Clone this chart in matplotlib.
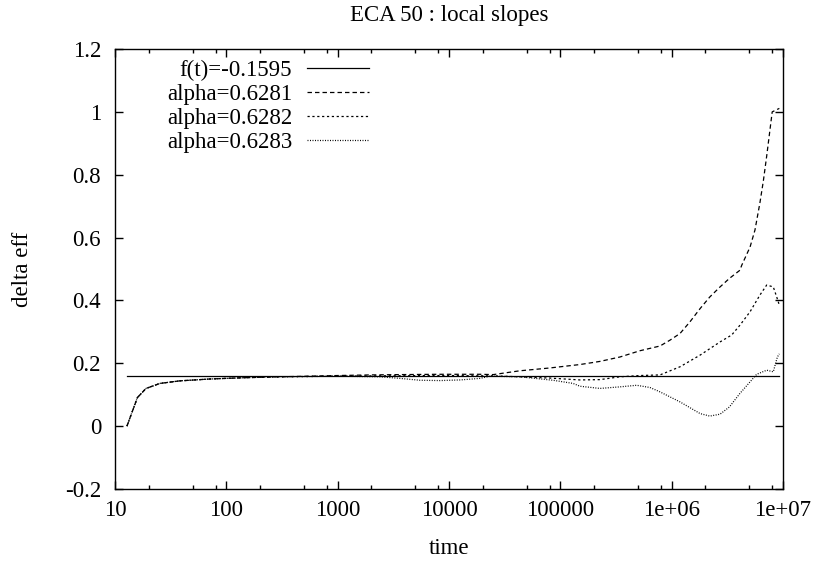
import matplotlib
matplotlib.use("Agg")
import matplotlib.pyplot as plt
from matplotlib.ticker import FixedLocator, FixedFormatter, NullFormatter

plt.rcParams['font.family'] = ['Liberation Serif', 'DejaVu Serif']
plt.rcParams['lines.scale_dashes'] = False
FS = 16.5

# ---- data ----
ft_value = 0.1595
ft_t = [12.8, 9.27e6]

t_6281 = [12.8, 15.9, 19.0, 25.4, 38, 71, 141, 300, 565, 1000, 2000, 3600, 8300,
          1.9e4, 2.5e4, 4.3e4, 8e4, 1.5e5, 2.27e5, 3.43e5, 5.2e5, 7.86e5, 9.7e5,
          1.19e6, 1.46e6, 1.8e6, 2.2e6, 2.72e6, 3.3e6, 4.1e6, 4.26e6, 5.06e6,
          5.6e6, 6.2e6, 6.66e6, 7.14e6, 8.0e6, 9.27e6]
y_6281 = [0.0, 0.091, 0.12, 0.136, 0.144, 0.150, 0.154, 0.157, 0.159, 0.161, 0.163,
          0.164, 0.165, 0.165, 0.164, 0.176, 0.185, 0.196, 0.206, 0.220, 0.240,
          0.255, 0.274, 0.295, 0.332, 0.374, 0.411, 0.443, 0.470, 0.496, 0.512,
          0.570, 0.624, 0.710, 0.780, 0.860, 1.000, 1.011]

t_6282 = [12.8, 15.9, 19.0, 25.4, 38, 71, 141, 300, 565, 1000, 2000, 8300, 2.5e4,
          4.3e4, 8e4, 1.5e5, 2.27e5, 3.43e5, 5.2e5, 7.86e5, 1.19e6, 1.8e6, 2.72e6,
          3.46e6, 4.1e6, 5.06e6, 6.2e6, 7.14e6, 8.18e6, 8.78e6, 9.27e6]
y_6282 = [0.0, 0.091, 0.12, 0.136, 0.144, 0.150, 0.154, 0.157, 0.158, 0.159, 0.160,
          0.161, 0.160, 0.157, 0.153, 0.147, 0.148, 0.157, 0.161, 0.163, 0.189,
          0.226, 0.268, 0.290, 0.321, 0.364, 0.417, 0.449, 0.443, 0.411, 0.385]

t_6283 = [12.8, 15.9, 19.0, 25.4, 38, 71, 141, 300, 565, 1000, 2400, 3630, 5490,
          8300, 1.26e4, 1.9e4, 2.34e4, 4.34e4, 8.6e4, 1.3e5, 1.5e5, 2.27e5, 3.43e5,
          4.85e5, 6.38e5, 7.86e5, 1.19e6, 1.8e6, 2.2e6, 2.72e6, 3.3e6, 4.1e6,
          5.06e6, 5.8e6, 7.14e6, 8.18e6, 8.9e6, 9.27e6]
y_6283 = [0.0, 0.091, 0.12, 0.136, 0.144, 0.150, 0.154, 0.157, 0.158, 0.159, 0.157,
          0.152, 0.146, 0.145, 0.147, 0.152, 0.159, 0.157, 0.146, 0.136, 0.127,
          0.120, 0.125, 0.130, 0.123, 0.109, 0.077, 0.040, 0.032, 0.038, 0.061,
          0.104, 0.141, 0.165, 0.178, 0.173, 0.220, 0.230]

x_major = [10, 100, 1000, 1e4, 1e5, 1e6, 1e7]
x_labels = ["10", "100", "1000", "10000", "100000", "1e+06", "1e+07"]
y_major = [-0.2, 0, 0.2, 0.4, 0.6, 0.8, 1.0, 1.2]
y_labels = ["-0.2", "0", "0.2", "0.4", "0.6", "0.8", "1", "1.2"]

# ---- figure ----
fig = plt.figure(figsize=(8.19, 5.62), dpi=100)
ax = fig.add_axes([115/819, 1-489/562, 668/819, 440/562])

lw = 0.9
ax.plot(ft_t, [ft_value, ft_value], color='black', lw=lw, label='f(t)=-0.1595')
ax.plot(t_6281, y_6281, color='black', lw=lw, linestyle=(0, (3.2, 2.2)), label='alpha=0.6281')
ax.plot(t_6282, y_6282, color='black', lw=lw, linestyle=(0, (1.6, 1.9)), label='alpha=0.6282')
ax.plot(t_6283, y_6283, color='black', lw=lw, linestyle=(0, (0.7, 1.1)), label='alpha=0.6283')

ax.set_xscale('log')
ax.set_xlim(10, 1e7)
ax.set_ylim(-0.2, 1.2)

ax.xaxis.set_major_locator(FixedLocator(x_major))
ax.xaxis.set_major_formatter(FixedFormatter(x_labels))
minors = [m * d for d in [10, 100, 1000, 1e4, 1e5, 1e6] for m in (2, 5, 8)]
ax.xaxis.set_minor_locator(FixedLocator(minors))
ax.xaxis.set_minor_formatter(NullFormatter())
ax.yaxis.set_major_locator(FixedLocator(y_major))
ax.yaxis.set_major_formatter(FixedFormatter(y_labels))

ax.tick_params(which='both', direction='in', top=True, right=True, labelsize=FS, width=1.0)
ax.tick_params(which='major', length=5.5)
ax.tick_params(which='minor', length=3)
ax.tick_params(axis='x', pad=8)
ax.tick_params(axis='y', pad=10)
for s in ax.spines.values():
    s.set_linewidth(1.0)

ax.set_xlabel('time', fontsize=FS)
ax.xaxis.set_label_coords(0.5, -0.136)
ax.xaxis.label.set_va('center')
ax.set_ylabel('delta eff', fontsize=FS)
ax.yaxis.set_label_coords(-0.139, 0.5)
ax.yaxis.label.set_va('center')
ax.text(0.5, 1.075, 'ECA 50 : local slopes', transform=ax.transAxes,
        ha='center', va='center', fontsize=FS)

ax.legend(loc='upper right', bbox_to_anchor=((369-115)/668, (489-60)/440),
          frameon=False, markerfirst=False, fontsize=FS, borderpad=0,
          handlelength=2.7, handletextpad=0.65, labelspacing=0.12, borderaxespad=0)

fig.savefig('out.png', dpi=100)
